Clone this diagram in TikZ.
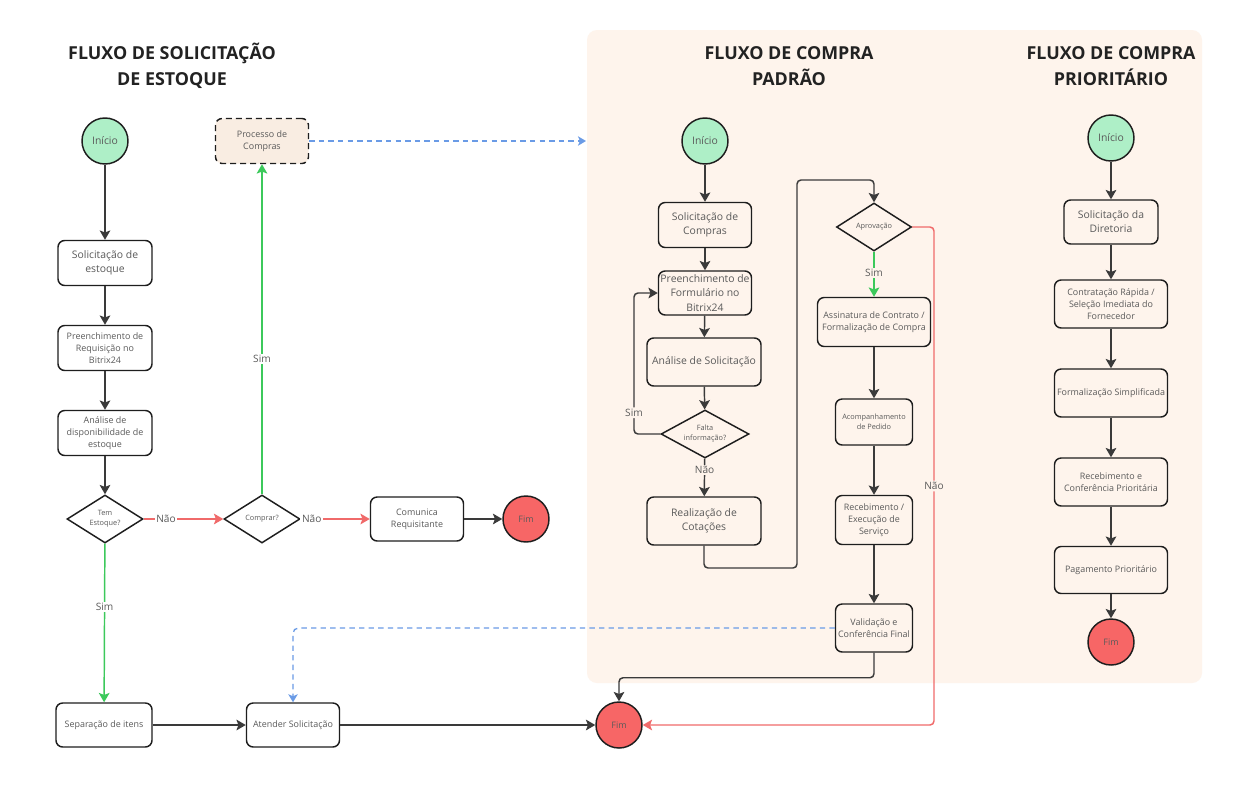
\documentclass[tikz,border=0pt]{standalone}
\usepackage{fontspec}
\setmainfont{Open Sans}
\usetikzlibrary{shapes.geometric,arrows.meta}
\definecolor{panelc}{HTML}{FEF4EC}
\definecolor{procc}{HTML}{F9EDE2}
\definecolor{txtc}{HTML}{5A5A5A}
\definecolor{titc}{HTML}{222222}
\definecolor{bordc}{HTML}{1E1E1E}
\definecolor{arrc}{HTML}{3A3A3A}
\definecolor{grnc}{HTML}{3CC95B}
\definecolor{redc}{HTML}{F06A6A}
\definecolor{bluc}{HTML}{6A9BE6}
\definecolor{inic}{HTML}{AEEFC7}
\definecolor{fimc}{HTML}{F76666}
\newcommand\fbig{\fontsize{7.8}{10.6}\selectfont}
\newcommand\fnorm{\fontsize{6.7}{9}\selectfont}
\newcommand\fsmall{\fontsize{5.5}{7.6}\selectfont}
\newcommand\flbl{\fontsize{7.6}{9}\selectfont}
\newcommand\ftit{\fontsize{13.4}{19.5}\selectfont\bfseries}
\tikzset{
  sz/.style 2 args={minimum width=#1*0.75pt, minimum height=#2*0.75pt},
  box/.style={draw=bordc, line width=1.1pt, rounded corners=5pt, align=center, inner sep=0pt, text=txtc},
  wbox/.style={box, fill=white},
  dia/.style={draw=bordc, line width=1.1pt, shape=diamond, shape aspect=1.7, align=center, inner sep=0pt, text=txtc, font=\fsmall},
  ini/.style={draw=bordc, line width=1.1pt, circle, fill=inic, minimum size=46*0.75pt, inner sep=0pt, text=txtc, font=\fbig},
  fim/.style={draw=bordc, line width=1.1pt, circle, fill=fimc, minimum size=46*0.75pt, inner sep=0pt, text=txtc, font=\fnorm},
  tit/.style={align=center, text=titc, font=\ftit},
  tip/.style={-{Stealth[width=8pt,length=7pt,inset=1.5pt]}},
  arr/.style={draw=arrc, line width=1.1pt, tip},
  garr/.style={draw=grnc, line width=1.1pt, tip},
  rarr/.style={draw=redc, line width=1.1pt, tip},
  barr/.style={draw=bluc, line width=1pt, dash pattern=on 4pt off 3.2pt, -{Stealth[width=7pt,length=6pt,inset=1.5pt]}},
  lbl/.style={fill=white, inner sep=1.2pt, text=txtc, font=\flbl},
  lblp/.style={lbl, fill=panelc},
}
\begin{document}
\begin{tikzpicture}[x=0.75pt,y=-0.75pt]
\useasboundingbox (0,0) rectangle (1257,794);
\fill[white] (0,0) rectangle (1257,794);
\fill[panelc, rounded corners=7.5pt] (587,30) rectangle (1202,683);

% titles
\node[tit] (tA) at (172,66) {FLUXO DE SOLICITAÇÃO\\DE ESTOQUE};
\node[tit] (tB) at (789,66) {FLUXO DE COMPRA\\PADRÃO};
\node[tit] (tC) at (1111,66) {FLUXO DE COMPRA\\PRIORITÁRIO};

% left flow
\node[ini] (iniA) at (105,141) {Início};
\node[wbox, sz={94}{45}, font=\fbig] (solE) at (105,263) {Solicitação de\\estoque};
\node[wbox, sz={94}{45}, font=\fnorm] (preR) at (105,348) {Preenchimento de\\Requisição no\\Bitrix24};
\node[wbox, sz={94}{45}, font=\fnorm] (anaD) at (105,433) {Análise de\\disponibilidade de\\estoque};
\node[dia, sz={76}{48}, shape aspect=1.58] (temE) at (105,519) {Tem\\Estoque?};
\node[dia, sz={76}{48}, shape aspect=1.58] (comp) at (262,519) {Comprar?};
\node[wbox, sz={93}{44}, font=\fnorm] (comu) at (417,519) {Comunica\\Requisitante};
\node[fim] (fimA) at (526,519) {Fim};
\node[box, sz={93}{45}, fill=procc, dash pattern=on 4.5pt off 3pt, font=\fnorm] (proc) at (262,141) {Processo de\\Compras};
\node[wbox, sz={96}{44}, font=\fnorm] (sepI) at (104,725) {Separação de itens};
\node[wbox, sz={93}{44}, font=\fnorm] (aten) at (293,725) {Atender Solicitação};
\node[fim] (fimB) at (619,725) {Fim};
\coordinate (pe) at (586,141);

% standard flow
\node[ini] (iniP) at (705,141) {Início};
\node[box, sz={93}{45}, font=\fbig] (solC) at (705,225) {Solicitação de\\Compras};
\node[box, sz={93}{44}, font=\fbig] (preF) at (705,293) {Preenchimento de\\Formulário no\\Bitrix24};
\node[box, sz={114}{48}, font=\fbig] (anaS) at (704,362) {Análise de Solicitação};
\node[dia, sz={88}{48}, shape aspect=1.83] (falt) at (705,434) {Falta\\informação?};
\node[box, sz={114}{48}, font=\fbig] (real) at (704,521) {Realização de\\Cotações};
\node[dia, sz={75}{48}, shape aspect=1.56] (aprv) at (874,227) {Aprovação};
\node[box, sz={113}{49}, font=\fnorm] (assi) at (874,322) {Assinatura de Contrato /\\Formalização de Compra};
\node[box, sz={77}{46}, font=\fsmall] (acom) at (874,422) {Acompanhamento\\de Pedido};
\node[box, sz={77}{49}, font=\fnorm] (rece) at (874,520) {Recebimento /\\Execução de\\Serviço};
\node[box, sz={77}{48}, font=\fnorm] (vali) at (874,628) {Validação e\\Conferência Final};
\coordinate (cS) at (634,434);
\coordinate (cA) at (797,568);
\coordinate (cB) at (797,180);
\coordinate (cN) at (934,725);

% priority flow
\node[ini] (iniR) at (1111,138) {Início};
\node[box, sz={94}{44}, font=\fbig] (solD) at (1111,222) {Solicitação da\\Diretoria};
\node[box, sz={113}{48}, font=\fnorm] (cont) at (1111,304) {Contratação Rápida /\\Seleção Imediata do\\Fornecedor};
\node[box, sz={113}{48}, font=\fnorm] (form) at (1111,393) {Formalização Simplificada};
\node[box, sz={113}{48}, font=\fnorm] (recP) at (1111,482) {Recebimento e\\Conferência Prioritária};
\node[box, sz={113}{47}, font=\fnorm] (pagP) at (1111,570) {Pagamento Prioritário};
\node[fim] (fimR) at (1111,642) {Fim};

% left connectors
\draw[arr] (iniA) -- (solE);
\draw[arr] (solE) -- (preR);
\draw[arr] (preR) -- (anaD);
\draw[arr] (anaD) -- (temE);
\draw[rarr] (temE) -- node[lbl, pos=0.28] {Não} (comp);
\draw[rarr] (comp) -- node[lbl, pos=0.16] {Não} (comu);
\draw[arr] (comu) -- (fimA);
\draw[garr] (comp) -- node[lbl, pos=0.41] {Sim} (proc);
\draw[garr] (temE) -- node[lbl, pos=0.4] {Sim} (sepI);
\draw[arr] (sepI) -- (aten);
\draw[arr] (aten) -- (fimB);
\draw[barr] (proc) -- (pe);
\draw[barr, rounded corners=4pt] (vali.west) -| (aten.north);

% standard connectors
\draw[arr] (iniP) -- (solC);
\draw[arr] (solC) -- (preF);
\draw[arr] (preF) -- (anaS);
\draw[arr] (anaS) -- (falt);
\draw[arr, rounded corners=3pt] (falt.west) -- (cS) |- node[lblp, pos=0.075] {Sim} (preF.west);
\draw[arr] (falt) -- node[lblp, pos=0.3] {Não} (real);
\draw[arr, rounded corners=3pt] (real.south) |- (cA) -- (cB) -| (aprv.north);
\draw[garr] (aprv) -- node[lblp, pos=0.47] {Sim} (assi);
\draw[arr] (assi) -- (acom);
\draw[arr] (acom) -- (rece);
\draw[arr] (rece) -- (vali);
\draw[arr, rounded corners=3pt] (vali.south) -- ++(0,25) -| (fimB.north);
\draw[rarr, rounded corners=3pt] (aprv.east) -| node[lblp, pos=0.76] {Não} (cN) -- (fimB.east);

% priority connectors
\draw[arr] (iniR) -- (solD);
\draw[arr] (solD) -- (cont);
\draw[arr] (cont) -- (form);
\draw[arr] (form) -- (recP);
\draw[arr] (recP) -- (pagP);
\draw[arr] (pagP) -- (fimR);
\end{tikzpicture}
\end{document}
